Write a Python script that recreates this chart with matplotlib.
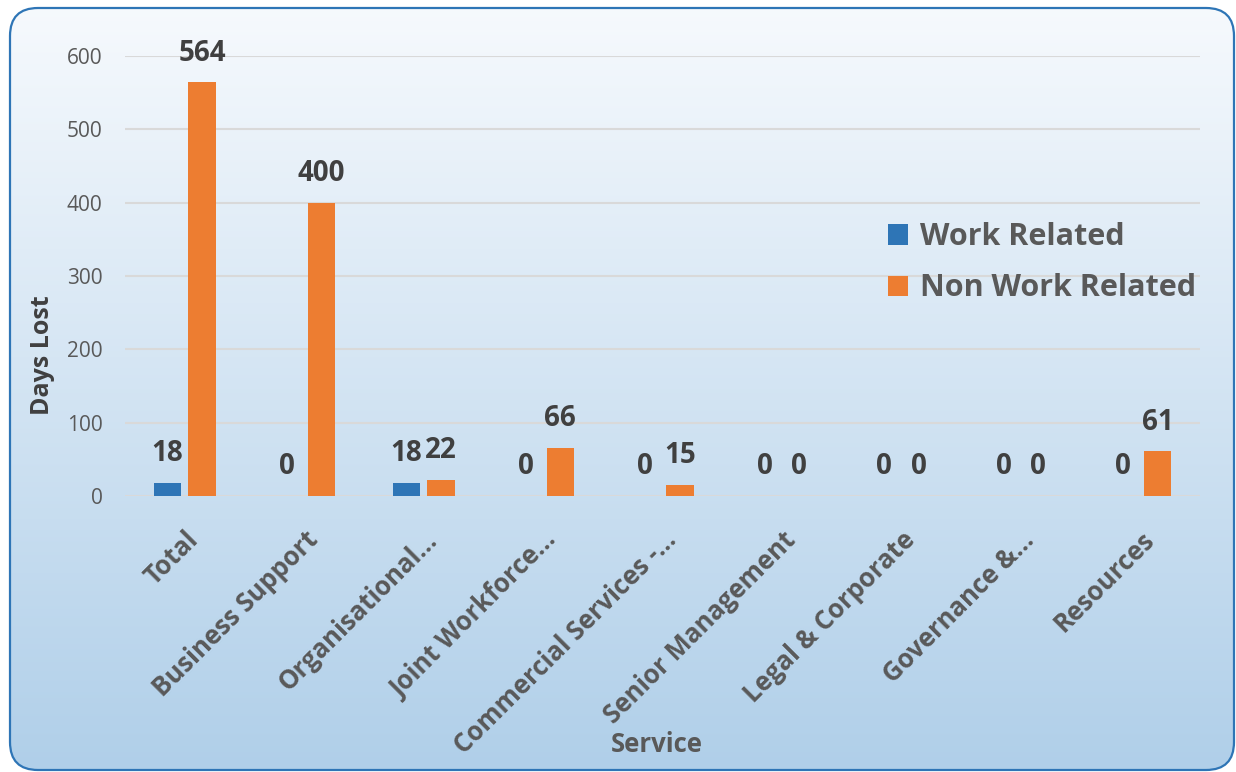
import matplotlib.pyplot as plt
import numpy as np
from matplotlib.patches import FancyBboxPatch

# Data
SERVICES = ["Total", "Business Support", "Organisational...", "Joint Workforce...",
            "Commercial Services -...", "Senior Management", "Legal & Corporate",
            "Governance &...", "Resources"]
WORK_RELATED = [18, 0, 18, 0, 0, 0, 0, 0, 0]
NON_WORK_RELATED = [564, 400, 22, 66, 15, 0, 0, 0, 61]
Y_TICKS = [0, 100, 200, 300, 400, 500, 600]

BLUE = "#2e75b6"
ORANGE = "#ed7d31"
TEXT = "#404040"
TICK = "#595959"

plt.rcParams["font.family"] = ["Open Sans", "DejaVu Sans"]

fig = plt.figure(figsize=(12.36, 7.72), dpi=100)
fig.patch.set_facecolor("white")

# Background panel with vertical gradient and rounded blue border
bg = fig.add_axes([0, 0, 1, 1], zorder=0)
bg.set_xlim(0, 1236)
bg.set_ylim(772, 0)
bg.axis("off")
grad = np.linspace(0, 1, 256)[:, None]
top = np.array([0.965, 0.978, 0.992])
bottom = np.array([0.690, 0.812, 0.914])
img = top + (bottom - top) * grad[..., None]
box = FancyBboxPatch((10, 8), 1224, 762, boxstyle="round,pad=0,rounding_size=28",
                     facecolor="none", edgecolor=BLUE, linewidth=1.6)
im = bg.imshow(img, extent=[10, 1234, 770, 8], aspect="auto")
bg.add_patch(box)
im.set_clip_path(box)

# Main chart
ax = fig.add_axes([0.1011, 0.3575, 0.8698, 0.570], zorder=1)
ax.set_facecolor("none")
x = np.arange(len(SERVICES))
w = 0.23
off = 0.145
b1 = ax.bar(x - off, WORK_RELATED, w, color=BLUE, label="Work Related", zorder=3)
b2 = ax.bar(x + off, NON_WORK_RELATED, w, color=ORANGE, label="Non Work Related", zorder=3)

for bars, vals in ((b1, WORK_RELATED), (b2, NON_WORK_RELATED)):
    for rect, v in zip(bars, vals):
        ax.annotate(str(v), (rect.get_x() + rect.get_width() / 2, v),
                    xytext=(0, 21), textcoords="offset points",
                    ha="center", va="center", fontsize=20, fontweight="bold", color=TEXT)

ax.set_xlim(-0.5, len(SERVICES) - 0.5)
ax.set_ylim(0, 600)
ax.set_yticks(Y_TICKS)
ax.set_yticklabels([str(t) for t in Y_TICKS], fontsize=15, color=TICK)
ax.set_xticks(x)
ax.set_xticklabels(SERVICES, rotation=45, ha="right", rotation_mode="anchor",
                   fontsize=18.5, fontweight="bold", color=TICK)
ax.tick_params(axis="both", length=0)
ax.tick_params(axis="y", pad=16)
ax.tick_params(axis="x", pad=22)
ax.grid(axis="y", color="#d9d9d9", linewidth=1.5, zorder=0)
for s in ax.spines.values():
    s.set_visible(False)

ax.set_ylabel("Days Lost", fontsize=18, fontweight="bold", color=TEXT)
ax.yaxis.set_label_coords(-(125 - 55) / 1075, (496 - 355) / 440)
fig.text(657 / 1236, 1 - 745 / 772, "Service", ha="center", va="center",
         fontsize=18.5, fontweight="bold", color=TICK)

leg = ax.legend(loc="center left", bbox_to_anchor=(0.71, 0.53), frameon=False,
                prop={"size": 22, "weight": "bold"}, handlelength=0.65, handleheight=0.65,
                handletextpad=0.4, labelspacing=0.7, borderpad=0, borderaxespad=0)
for t in leg.get_texts():
    t.set_color(TICK)

fig.savefig("out.png", dpi=100)
